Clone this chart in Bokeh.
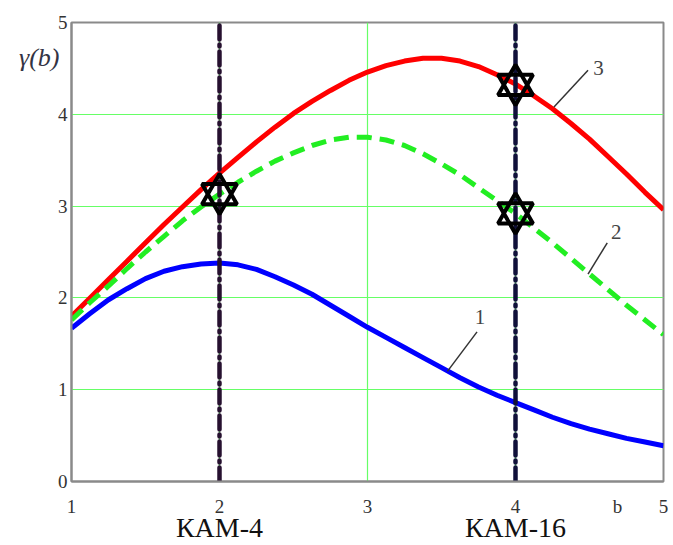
from bokeh.plotting import figure
from bokeh.models import Range1d, FixedTicker, Label, LinearAxis
from bokeh.embed import file_html
from bokeh.resources import INLINE

# ---- data ----
b = [1.0, 1.125, 1.25, 1.375, 1.5, 1.625, 1.75, 1.875, 2.0, 2.125, 2.25, 2.375, 2.5, 2.625,
     2.75, 2.875, 3.0, 3.125, 3.25, 3.375, 3.5, 3.625, 3.75, 3.875, 4.0, 4.125, 4.25, 4.375,
     4.5, 4.625, 4.75, 4.875, 5.0]
gamma1 = [1.67, 1.83, 1.98, 2.10, 2.21, 2.29, 2.34, 2.37, 2.38, 2.36, 2.31, 2.23, 2.14, 2.04,
          1.92, 1.80, 1.68, 1.57, 1.46, 1.35, 1.24, 1.13, 1.03, 0.94, 0.86, 0.78, 0.70, 0.63,
          0.57, 0.52, 0.47, 0.43, 0.39]
gamma2 = [1.76, 1.95, 2.13, 2.32, 2.50, 2.67, 2.84, 2.99, 3.13, 3.26, 3.38, 3.49, 3.58, 3.66,
          3.72, 3.75, 3.75, 3.72, 3.66, 3.57, 3.46, 3.34, 3.20, 3.06, 2.92, 2.76, 2.60, 2.43,
          2.26, 2.09, 1.92, 1.76, 1.60]
gamma3 = [1.80, 2.00, 2.20, 2.40, 2.60, 2.80, 2.99, 3.18, 3.36, 3.53, 3.70, 3.86, 4.01, 4.14,
          4.26, 4.37, 4.46, 4.53, 4.58, 4.61, 4.61, 4.58, 4.52, 4.43, 4.33, 4.20, 4.06, 3.90,
          3.73, 3.54, 3.35, 3.15, 2.96]
star_b = [2.0, 4.0, 4.0]
star_g = [3.13, 4.32, 2.92]
kam_b = [2.0, 4.0]
kam_labels = ["КАМ-4", "КАМ-16"]
kam_colors = ["#26102f", "#10103a"]
x_ticks = [1, 2, 3, 4, 5]
y_ticks = [0, 1, 2, 3, 4, 5]
y_name_pos = 4.62
x_name_pos = 4.69
y_name = "γ(b)"
x_name = "b"
curve_names = ["1", "2", "3"]
name_pos_b = [3.76, 4.68, 4.56]
name_pos_g = [1.79, 2.72, 4.50]
leader_b = [[3.74, 3.54], [4.62, 4.49], [4.49, 4.26]]
leader_g = [[1.63, 1.20], [2.60, 2.26], [4.48, 4.08]]

SERIF = "Liberation Serif"

p = figure(width=673, height=545, output_backend="svg", toolbar_location=None,
           x_range=Range1d(1, 5), y_range=Range1d(0, 5),
           min_border_left=71, min_border_right=10, min_border_top=22, min_border_bottom=62)
p.background_fill_color = "white"
p.border_fill_color = "white"
p.outline_line_color = "#8a8a8a"
p.outline_line_width = 2

def style_axis(ax, size="19px"):
    ax.major_tick_line_color = None
    ax.minor_tick_line_color = None
    ax.major_tick_out = 0
    ax.major_tick_in = 0
    ax.minor_tick_out = 0
    ax.minor_tick_in = 0
    ax.major_label_text_font = SERIF
    ax.major_label_text_font_size = size
    ax.major_label_text_color = "#333333"

# main axes (x axis also carries the axis name "b")
p.xaxis.ticker = FixedTicker(ticks=x_ticks + [x_name_pos])
p.xaxis.major_label_overrides = {x_name_pos: x_name}
p.yaxis.ticker = FixedTicker(ticks=y_ticks)
for ax in (p.xaxis, p.yaxis):
    ax.axis_line_color = "#8a8a8a"
    ax.axis_line_width = 2
    style_axis(ax)
p.xaxis.major_label_standoff = 14
p.yaxis.major_label_standoff = 4

# KAM labels as a second bottom axis
kam_axis = LinearAxis(ticker=FixedTicker(ticks=kam_b),
                      major_label_overrides={xb: t for xb, t in zip(kam_b, kam_labels)})
style_axis(kam_axis, "28px")
kam_axis.axis_line_color = None
kam_axis.major_label_text_color = "#111111"
kam_axis.major_label_standoff = -8
p.add_layout(kam_axis, "below")

# gamma(b) name as a second left axis
g_axis = LinearAxis(ticker=FixedTicker(ticks=[y_name_pos]),
                    major_label_overrides={y_name_pos: y_name})
style_axis(g_axis, "26px")
g_axis.axis_line_color = None
g_axis.major_label_text_font_style = "italic"
g_axis.major_label_text_color = "#333344"
g_axis.major_label_standoff = -5
p.add_layout(g_axis, "left")

p.xgrid.ticker = FixedTicker(ticks=x_ticks)
p.ygrid.ticker = FixedTicker(ticks=y_ticks)
p.grid.grid_line_color = "#66ff66"
p.grid.grid_line_width = 1.2

# curves
p.line(b, gamma1, line_color="#0000ff", line_width=5)
p.line(b, gamma3, line_color="#ff0000", line_width=5)
p.line(b, gamma2, line_color="#22ee22", line_width=5, line_dash="15 8")

# vertical dash-dot markers
for xb, c in zip(kam_b, kam_colors):
    p.line([xb, xb], [0, 5], line_color=c, line_width=4.5, line_dash="14 5 2 5", line_cap="round")

# hexagram stars
p.scatter(star_b, star_g, marker="triangle", size=35, fill_alpha=0,
          line_color="black", line_width=4)
p.scatter(star_b, star_g, marker="inverted_triangle", size=35, fill_alpha=0,
          line_color="black", line_width=4)

# curve name labels with leaders
for nm, xb, yg, lb, lg in zip(curve_names, name_pos_b, name_pos_g, leader_b, leader_g):
    p.line(lb, lg, line_color="#333333", line_width=1.5)
    p.add_layout(Label(x=xb, y=yg, text=nm, text_font=SERIF, text_font_size="21px",
                       text_color="#444444", text_align="center", text_baseline="middle"))

open("out.html", "w").write(file_html(p, INLINE))
